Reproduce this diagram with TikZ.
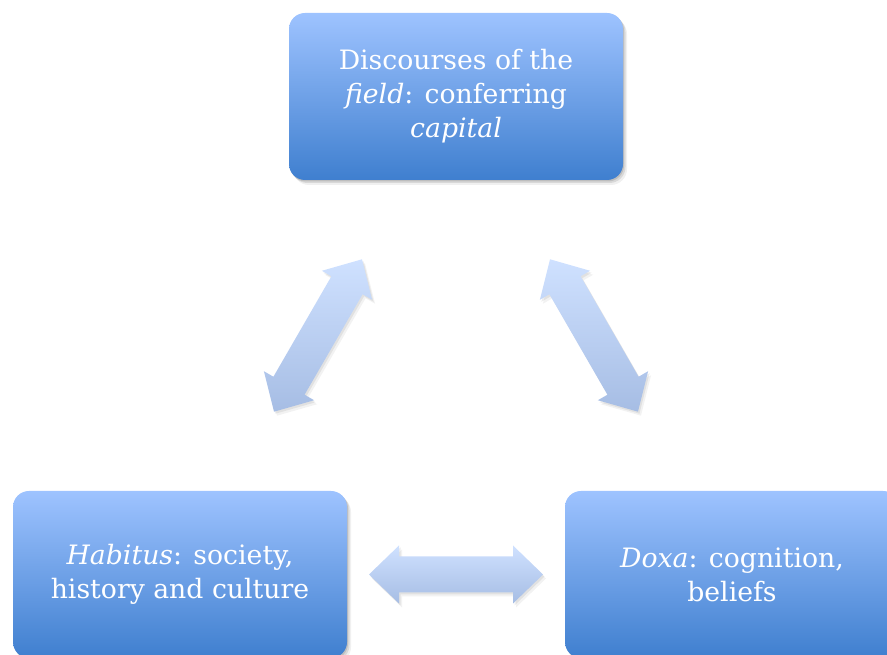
\documentclass[tikz,border=0pt]{standalone}
\usepackage{fontspec}
\setmainfont{DejaVu Serif}
\usetikzlibrary{calc}
\definecolor{boxtop}{HTML}{9EC3FF}
\definecolor{boxmid}{HTML}{86AFF1}
\definecolor{boxbot}{HTML}{3F7FCF}
\definecolor{arrtop}{HTML}{CFE1FF}
\definecolor{arrbot}{HTML}{A6BDE4}
\newcommand\blockarr[2]{%
  \path[arrowshape] (#1) -- ($(#1)!30pt!(#2)!29pt!90:(#2)$) -- ($(#1)!30pt!(#2)!18pt!90:(#2)$)
    -- ($(#2)!30pt!(#1)!18pt!-90:(#1)$) -- ($(#2)!30pt!(#1)!29pt!-90:(#1)$) -- (#2)
    -- ($(#2)!30pt!(#1)!29pt!90:(#1)$) -- ($(#2)!30pt!(#1)!18pt!90:(#1)$)
    -- ($(#1)!30pt!(#2)!18pt!-90:(#2)$) -- ($(#1)!30pt!(#2)!29pt!-90:(#2)$) -- cycle;}
\begin{document}
\begin{tikzpicture}[x=1pt,y=1pt,
  box/.style={rounded corners=16pt, minimum width=334pt, minimum height=167pt,
    inner sep=0pt, text=white, align=center,
    font=\fontsize{26.7}{34}\selectfont,
    preaction={fill=black, opacity=0.06, transform canvas={shift={(4pt,-5pt)}}},
    preaction={fill=black, opacity=0.10, transform canvas={shift={(2.5pt,-3pt)}}},
    preaction={fill=black, opacity=0.12, transform canvas={shift={(1pt,-1.5pt)}}},
    top color=boxtop, middle color=boxmid, bottom color=boxbot},
  arrowshape/.style={
    preaction={fill=black, opacity=0.05, transform canvas={shift={(3pt,-4pt)}}},
    preaction={fill=black, opacity=0.07, transform canvas={shift={(1.5pt,-2pt)}}},
    top color=arrtop, bottom color=arrbot}]
\useasboundingbox (0,0) rectangle (887,655);
\clip (0,0) rectangle (887,655);
\node[box] (top) at (456,558.5) {Discourses of the\\\textit{field}: conferring\\\textit{capital}};
\node[box] (bl) at (180,80.5) {\textit{Habitus}: society,\\history and culture};
\node[box] (br) at (732,80.5) {\textit{Doxa}: cognition,\\beliefs};
\coordinate (m1) at ($(top.center)!0.5!(bl.center)$);
\coordinate (l1) at ($(m1)!88pt!(top.center)$);
\coordinate (l2) at ($(m1)!88pt!(bl.center)$);
\coordinate (m2) at ($(top.center)!0.5!(br.center)$);
\coordinate (r1) at ($(m2)!88pt!(top.center)$);
\coordinate (r2) at ($(m2)!88pt!(br.center)$);
\coordinate (m3) at ($(bl.center)!0.5!(br.center)$);
\coordinate (b1) at ($(m3)!87pt!(bl.center)$);
\coordinate (b2) at ($(m3)!87pt!(br.center)$);
\blockarr{l1}{l2}
\blockarr{r1}{r2}
\blockarr{b1}{b2}
\end{tikzpicture}
\end{document}
